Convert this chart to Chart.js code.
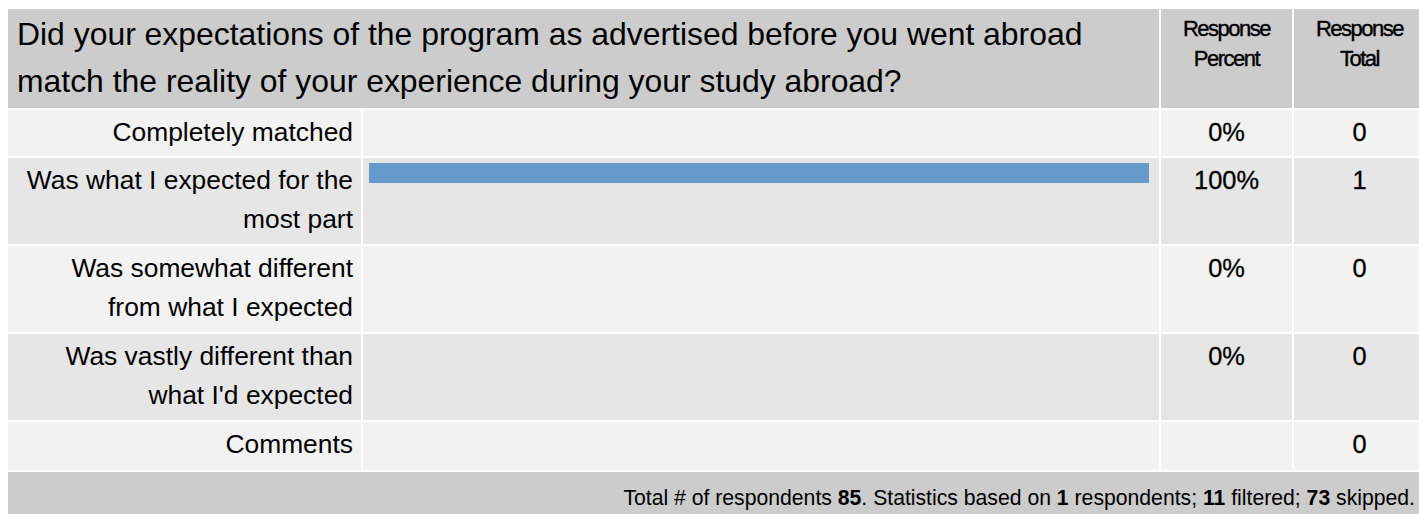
<!DOCTYPE html>
<html>
<head>
<meta charset="utf-8">
<script src="https://cdn.jsdelivr.net/npm/chart.js@4.4.0/dist/chart.umd.min.js"></script>
<style>
    html, body { margin: 0; padding: 0; background: #fff; overflow: hidden; }
    body { width: 1419px; height: 514px; position: relative; font-family: "Liberation Sans", Arial, sans-serif; color: #000; }
    #tabla {
        position: absolute; left: 8px; top: 9px;
        display: grid;
        grid-template-columns: 353px 796px 131px 131px;
        grid-template-rows: 99px 46px 86px 86px 86px 48px 60px;
        gap: 2px;
        background: #fff;
    }
    .cab { background: #cccccc; }
    .pregunta { grid-column: 1 / 3; font-size: 31.9px; line-height: 47px; padding: 2px 9px 0 9px; box-sizing: border-box; }
    .resp { font-size: 22px; line-height: 30px; letter-spacing: -1.5px; text-align: center; padding-top: 5px; box-sizing: border-box; -webkit-text-stroke: 0.4px #000; }
    .claro { background: #f2f2f2; }
    .oscuro { background: #e6e6e6; }
    .etiqueta { font-size: 26.4px; line-height: 39px; text-align: right; padding: 3px 8px 0 10px; box-sizing: border-box; }
    .barra { position: relative; }
    .barra .lienzo { position: absolute; left: 6px; top: 5px; width: 780px; height: 20px; }
    .num { font-size: 25.4px; line-height: 39px; text-align: center; padding-top: 3px; box-sizing: border-box; -webkit-text-stroke: 0.3px #000; }
    .pie { grid-column: 1 / 5; font-size: 21.2px; line-height: 26px; text-align: right; padding: 13px 10px 0 0; box-sizing: border-box; }
</style>
</head>
<body>
<div id="tabla"></div>

<script>
const pregunta = "Did your expectations of the program as advertised before you went abroad match the reality of your experience during your study abroad?";
const respuestas = [
    "Completely matched",
    "Was what I expected for the most part",
    "Was somewhat different from what I expected",
    "Was vastly different than what I'd expected"
];
const porcentajes = [0, 100, 0, 0];
const totales = [0, 1, 0, 0];
const totalComentarios = 0;

const totalEncuestados = 85;
const basadoEn = 1;
const filtrados = 11;
const omitidos = 73;

const colorBarra = "#6699cc";

const tabla = document.getElementById("tabla");

function celda(clase, html) {
    const div = document.createElement("div");
    div.className = clase;
    if (html !== undefined) div.innerHTML = html;
    tabla.appendChild(div);
    return div;
}

// Cabecera
celda("cab pregunta", pregunta);
celda("cab resp", "Response<br>Percent");
celda("cab resp", "Response<br>Total");

// Filas de respuestas
respuestas.forEach((r, i) => {
    const fondo = i % 2 === 0 ? "claro" : "oscuro";
    celda(fondo + " etiqueta", r);

    const cBarra = celda(fondo + " barra");
    const wrap = document.createElement("div");
    wrap.className = "lienzo";
    const canvas = document.createElement("canvas");
    canvas.width = 780;
    canvas.height = 20;
    wrap.appendChild(canvas);
    cBarra.appendChild(wrap);

    new Chart(canvas, {
        type: "bar",
        data: {
            labels: [r],
            datasets: [{
                data: [porcentajes[i]],
                backgroundColor: colorBarra,
                borderWidth: 0,
                inflateAmount: 0,
                barPercentage: 1,
                categoryPercentage: 1
            }]
        },
        options: {
            indexAxis: "y",
            responsive: false,
            animation: false,
            layout: { padding: 0 },
            plugins: { legend: { display: false }, tooltip: { enabled: false } },
            scales: {
                x: { min: 0, max: 100, display: false },
                y: { display: false }
            }
        }
    });

    celda(fondo + " num", porcentajes[i] + "%");
    celda(fondo + " num", totales[i]);
});

// Comentarios
celda("claro etiqueta", "Comments");
celda("claro");
celda("claro");
celda("claro num", totalComentarios);

// Pie
celda("cab pie",
    `Total # of respondents <b>${totalEncuestados}</b>. Statistics based on <b>${basadoEn}</b> respondents; <b>${filtrados}</b> filtered; <b>${omitidos}</b> skipped.`);
</script>
</body>
</html>
